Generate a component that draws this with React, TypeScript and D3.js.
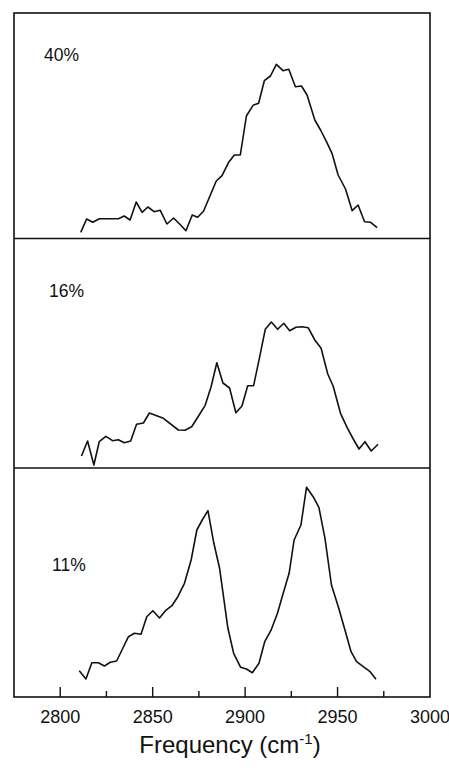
import React from "react";
import * as d3 from "d3";

// ---- Data ----
// Panel labels (sample concentration)
const panelLabels = ["40%", "16%", "11%"];

// 40% spectrum
const freq40 = [2811.1, 2814.3, 2817.6, 2821.2, 2831.5, 2834.6, 2837.8, 2841.1, 2844.3, 2847.4, 2850.8, 2854.1, 2857.7, 2861.3, 2864.7, 2868.0, 2871.4, 2874.3, 2877.5, 2880.8, 2884.4, 2887.5, 2891.1, 2894.2, 2897.4, 2900.7, 2904.3, 2907.3, 2910.4, 2913.7, 2916.9, 2920.5, 2923.6, 2927.2, 2930.5, 2933.5, 2937.7, 2940.8, 2944.0, 2947.0, 2950.3, 2954.3, 2957.9, 2961.1, 2964.6, 2967.9, 2971.4];
const int40 = [6.2, 19.5, 16.2, 19.8, 19.8, 22.5, 18.5, 36.5, 26.2, 31.5, 26.8, 28.2, 14.5, 20.5, 14.2, 7.8, 23.5, 21.2, 27.2, 41.8, 57.5, 62.8, 76.2, 83.5, 83.5, 122.5, 133.2, 135.2, 157.8, 162.5, 174.2, 167.8, 169.2, 151.8, 152.5, 143.5, 118.5, 108.5, 96.8, 85.2, 63.5, 49.5, 27.8, 33.5, 16.8, 16.2, 10.8];

// 16% spectrum
const freq16 = [2811.5, 2814.8, 2818.2, 2821.1, 2824.7, 2828.3, 2831.4, 2834.7, 2838.1, 2841.3, 2845.0, 2848.2, 2855.8, 2863.9, 2867.5, 2871.1, 2874.8, 2878.4, 2881.6, 2884.7, 2888.0, 2891.6, 2895.0, 2898.3, 2901.4, 2904.6, 2907.9, 2910.9, 2914.2, 2917.6, 2920.9, 2924.1, 2927.5, 2930.8, 2934.1, 2937.7, 2941.1, 2944.7, 2947.6, 2951.6, 2955.2, 2958.5, 2961.6, 2964.8, 2968.2, 2971.9];
const int16 = [12, 27, 3, 26.3, 31.7, 27.3, 28.3, 25.3, 27, 43.7, 45, 55, 49.7, 38, 37.7, 41.3, 52, 62.7, 81.3, 105.3, 85, 80, 55.3, 62, 82.3, 82.3, 111.3, 138.7, 146, 138.7, 144.7, 137.3, 140.7, 141.3, 140.3, 128, 119.7, 94, 82, 54.7, 40.3, 29, 19, 26.3, 17, 23.7];

// 11% spectrum
const freq11 = [2810.3, 2813.9, 2817.1, 2820.6, 2823.9, 2827.1, 2830.5, 2833.4, 2836.9, 2840.1, 2843.7, 2846.8, 2850.1, 2853.7, 2856.9, 2860.4, 2863.6, 2867.2, 2870.8, 2873.9, 2876.8, 2879.9, 2883.1, 2886.2, 2890.7, 2893.8, 2897.6, 2900.7, 2903.9, 2907.5, 2910.6, 2913.9, 2917.5, 2920.6, 2923.8, 2926.5, 2930.2, 2933.2, 2936.8, 2939.9, 2943.2, 2946.7, 2950.4, 2954.0, 2957.3, 2960.3, 2963.9, 2967.6, 2970.8];
const int11 = [26.3, 18, 34.3, 34.3, 31, 34.7, 36, 47, 60.3, 63.7, 62.7, 80.3, 86.3, 79, 86.3, 91.3, 100.3, 113.7, 137, 167, 177, 186.3, 153.7, 128.7, 68.7, 43.7, 29.7, 28, 24.3, 33.7, 55.3, 66.3, 83.7, 103.7, 123.7, 157, 172, 209.7, 200.3, 189.7, 158.7, 112, 90.3, 67, 45.3, 35.3, 30.3, 25.3, 17.7];

// Axis ticks
const majorTicks = [2800, 2850, 2900, 2950, 3000];
const minorTicks = [2825, 2875, 2925, 2975];
const xDomain = [2775, 3000];

const series = [
  { label: panelLabels[0], freq: freq40, intensity: int40 },
  { label: panelLabels[1], freq: freq16, intensity: int16 },
  { label: panelLabels[2], freq: freq11, intensity: int11 },
];

// ---- Layout ----
const W = 449;
const H = 771;
const left = 14;
const right = 430;
const panelEdges = [13, 238.5, 468, 697];
const labelPos = [
  { x: 44, y: 61 },
  { x: 49, y: 297 },
  { x: 52, y: 571 },
];
const font = "'Liberation Sans', Arial, Helvetica, sans-serif";

export default function App() {
  const x = d3.scaleLinear().domain(xDomain).range([left, right]);
  const bottom = panelEdges[3];

  return (
    <svg
      width={W}
      height={H}
      viewBox={`0 0 ${W} ${H}`}
      style={{ position: "absolute", left: 0, top: 0, background: "#fff" }}
    >
      <rect x={0} y={0} width={W} height={H} fill="#fff" />
      {series.map((s, i) => {
        const top = panelEdges[i];
        const bot = panelEdges[i + 1];
        const y = d3.scaleLinear().domain([0, bot - top]).range([bot, top]);
        const pts = s.freq.map((f, j) => [f, s.intensity[j]] as [number, number]);
        const line = d3
          .line<[number, number]>()
          .x((d) => x(d[0]))
          .y((d) => y(d[1]));
        return (
          <g key={i}>
            <path
              d={line(pts) || ""}
              fill="none"
              stroke="#111"
              strokeWidth={1.6}
              strokeLinejoin="round"
            />
            <text
              x={labelPos[i].x}
              y={labelPos[i].y}
              fontFamily={font}
              fontSize={17.5}
              fill="#111"
            >
              {s.label}
            </text>
          </g>
        );
      })}
      {/* frame */}
      <rect
        x={left}
        y={panelEdges[0]}
        width={right - left}
        height={bottom - panelEdges[0]}
        fill="none"
        stroke="#111"
        strokeWidth={1.6}
      />
      {panelEdges.slice(1, 3).map((py, i) => (
        <line key={i} x1={left} x2={right} y1={py} y2={py} stroke="#111" strokeWidth={1.6} />
      ))}
      {/* ticks */}
      {majorTicks
        .filter((t) => t < xDomain[1])
        .map((t) => (
          <line key={"M" + t} x1={x(t)} x2={x(t)} y1={bottom} y2={bottom - 10} stroke="#111" strokeWidth={1.4} />
        ))}
      {minorTicks.map((t) => (
        <line key={"m" + t} x1={x(t)} x2={x(t)} y1={bottom} y2={bottom - 6} stroke="#111" strokeWidth={1.4} />
      ))}
      {majorTicks.map((t) => (
        <text
          key={"l" + t}
          x={x(t)}
          y={722.5}
          textAnchor="middle"
          fontFamily={font}
          fontSize={18}
          fill="#111"
        >
          {t}
        </text>
      ))}
      <text x={230} y={753} textAnchor="middle" fontFamily={font} fontSize={24} fill="#111">
        Frequency (cm
        <tspan fontSize={15} dy={-9}>-1</tspan>
        <tspan dy={9}>)</tspan>
      </text>
    </svg>
  );
}
